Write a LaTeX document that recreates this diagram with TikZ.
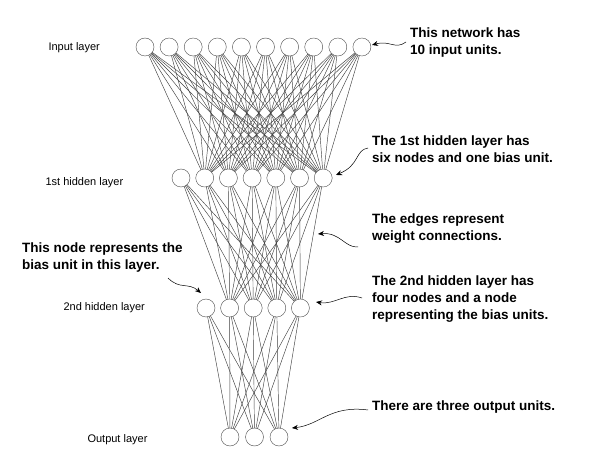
\documentclass[tikz,border=0pt]{standalone}
\usepackage{fontspec}
\setmainfont{Liberation Sans}
\usetikzlibrary{arrows.meta}
\begin{document}
\begin{tikzpicture}[x=1pt,y=-1pt,
  unit/.style={draw=black!70,fill=white,circle,minimum size=18pt,inner sep=0pt},
  edge/.style={draw=black!75,line width=0.45pt},
  layername/.style={font=\fontsize{11}{13}\selectfont,anchor=west},
  note/.style={font=\bfseries\fontsize{13.5}{17}\selectfont,anchor=north west,align=left,inner sep=0pt},
  pointer/.style={-{Stealth[length=6pt,width=5pt]},line width=0.5pt}]
\useasboundingbox (0,0) rectangle (600,465);
% units
\foreach \i in {0,...,9} \coordinate (p\i) at (145+24.1*\i,47);
\foreach \i in {0,...,6} \coordinate (q\i) at (181+23.7*\i,178);
\foreach \i in {0,...,4} \coordinate (r\i) at (206+23.6*\i,308);
\foreach \i in {0,...,2} \coordinate (s\i) at (230+24.5*\i,437);
% edges
\foreach \i in {0,...,9} \foreach \j in {1,...,6} \draw[edge] (p\i) -- (q\j);
\foreach \i in {0,...,6} \foreach \j in {1,...,4} \draw[edge] (q\i) -- (r\j);
\foreach \i in {0,...,4} \foreach \j in {0,...,2} \draw[edge] (r\i) -- (s\j);
\foreach \i in {0,...,9} \node[unit] (in\i) at (p\i) {};
\foreach \i in {0,...,6} \node[unit] (hA\i) at (q\i) {};
\foreach \i in {0,...,4} \node[unit] (hB\i) at (r\i) {};
\foreach \i in {0,...,2} \node[unit] (out\i) at (s\i) {};
% layer names
\node[layername] at (45,48) {Input layer};
\node[layername] at (42,183) {1st hidden layer};
\node[layername] at (60,308) {2nd hidden layer};
\node[layername] at (84,440) {Output layer};
% notes
\node[note] (n1) at (410,28) {This network has\\10 input units.};
\node[note] (n2) at (372,136) {The 1st hidden layer has\\six nodes and one bias unit.};
\node[note] (n3) at (372,214) {The edges represent\\weight connections.};
\node[note] (n4) at (22,243) {This node represents the\\bias unit in this layer.};
\node[note] (n5) at (372,276) {The 2nd hidden layer has\\four nodes and a node\\representing the bias units.};
\node[note] (n6) at (372,401) {There are three output units.};
\coordinate (t1) at (372,45);
\coordinate (t2) at (336,175);
\coordinate (t3) at (318,234);
\coordinate (t4) at (201,293);
\coordinate (t5) at (316,302);
\coordinate (t6) at (292,428);
\draw[pointer] (406,42) .. controls (395,50) and (390,40) .. (t1);
\draw[pointer] (368,148) .. controls (355,150) and (360,165) .. (t2);
\draw[pointer] (358,247) .. controls (345,248) and (340,232) .. (t3);
\draw[pointer] (168,278) .. controls (180,290) and (188,282) .. (t4);
\draw[pointer] (362,298) .. controls (345,292) and (335,305) .. (t5);
\draw[pointer] (368,410) .. controls (330,405) and (320,425) .. (t6);
\end{tikzpicture}
\end{document}
